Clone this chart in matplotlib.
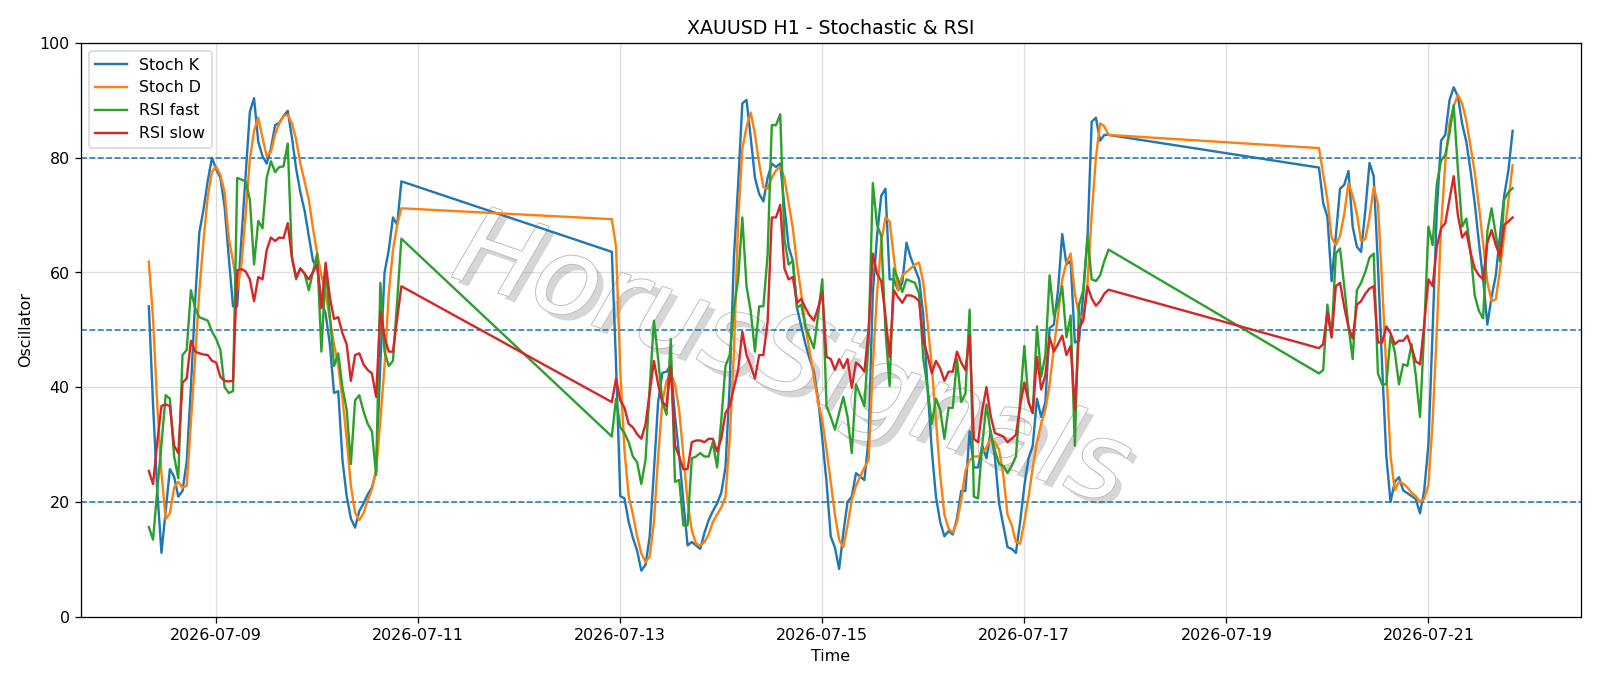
import numpy as np
import pandas as pd
import matplotlib
matplotlib.use("Agg")
import matplotlib.pyplot as plt
import matplotlib.dates as mdates
import matplotlib.patheffects as pe

# ---- data (hourly bars, weekend gaps) ----
seg_starts = ["2026-07-08 08:00", "2026-07-12 22:00", "2026-07-19 22:00"]

stoch_k_1 = [54.1, 37, 22, 11.1, 18.4, 25.7, 24.4, 20.9, 21.9, 27, 40, 55, 67, 71, 76, 80,
             78, 76.5, 71.5, 62.6, 54.1, 54.1, 66, 77, 88, 90.4, 82.8, 80.3, 79, 81.6, 85.7, 86.1, 87.3, 88.2,
             83.5, 78.1, 74, 70.8, 66.4, 62, 61, 55, 52.8, 47.5, 39, 39.3, 27.3, 21, 17.1, 15.5, 18.4, 19.7,
             21.3, 22.5, 25.4, 44, 60, 63.9, 69.6, 68.3, 75.9]
stoch_d_1 = [61.9, 52, 37, 25, 17, 18, 22.5, 23.5, 22.5, 22.8, 34, 45, 56.8, 65.6, 73.2, 77.6,
             78.5, 77, 74, 66, 62, 57, 61.4, 70.2, 79.7, 84.7, 87, 83.5, 80.3, 81, 84.1, 86, 87.3, 87.5,
             86, 83.2, 79, 75.9, 72.7, 67.7, 63.3, 59.5, 56.3, 51.9, 47.5, 43.7, 38, 31, 22.8, 18.1, 16.8, 18,
             20.3, 22.2, 25.4, 34.2, 43.7, 56.3, 63.9, 68.3, 71.2]
rsi_fast_1 = [15.6, 13.4, 22, 30, 38.6, 38, 28, 24.1, 45.6, 46.5, 56.9, 53.8, 52.2, 51.9, 51.6, 49.7,
              48.4, 46.5, 40, 39, 39.3, 76.5, 76.2, 75.9, 72.7, 61.4, 69, 67.7, 76.5, 79.4, 77.5, 78.4, 78.5, 82.5,
              62.6, 58.8, 60.7, 59.8, 56.9, 60.1, 63.3, 46.2, 60.7, 52.5, 43.7, 45.9, 39.9, 36.1, 26.6, 37.7, 38.6,
              35.8, 33.6, 32.3, 24.7, 58.2, 46.2, 43.7, 44.6, 55, 65.9]
rsi_slow_1 = [25.4, 23.1, 30.4, 36.7, 37, 36.7, 29.8, 28.5, 40.8, 41.5, 48.1, 46.2, 45.9, 45.7, 45.6, 44.6,
              44.3, 41.8, 41.1, 41, 41.1, 60.4, 60.6, 60.2, 58.8, 55, 59.2, 58.8, 63.9, 66.1, 65.5, 66.1, 66, 68.6,
              62.6, 59.2, 60.7, 59.8, 58.8, 60.1, 61.4, 53.8, 61.7, 55.7, 51.9, 52.2, 49.4, 47.5, 41.1, 45.6, 45.9,
              44, 43, 42.4, 38.3, 53.2, 48.7, 46.2, 46.2, 52, 57.6]

stoch_k_2 = [63.6, 44, 21, 20.6, 16.5, 13.7, 11.5, 8, 9, 14,
             25.4, 37.4, 42.5, 42.7, 43.9, 35, 28, 20, 12.4, 13,
             12.4, 11.8, 14.6, 16.8, 18.4, 19.7, 21.6, 26, 40.5, 62.6,
             75.3, 89.5, 90.1, 83.5, 76.5, 73.7, 72.4, 76.5, 79, 78.4,
             79, 71.5, 64.5, 62, 53.8, 50.6, 47.5, 44.9, 42.7, 38,
             31, 23.5, 14, 12, 8.3, 14.6, 20, 20.9, 25, 24.4,
             23.8, 31, 56.3, 66.4, 73.4, 74.6, 58.8, 58.8, 56.9, 58.2,
             65.2, 62.6, 60.7, 58.8, 52.5, 39.9, 29.1, 20.9, 16.5, 14,
             14.9, 14.3, 17.1, 21.9, 21.9, 32.3, 26, 26, 29.8, 27.6,
             32.3, 27.9, 19.7, 15.9, 12.1, 11.8, 11.1, 16.5, 22.8, 27.6,
             29.8, 38, 34.8, 37.4, 50.3, 50.9, 56.9, 66.7, 61.4, 62,
             47.8, 48.1, 56.3, 65.8, 86.3, 87, 83, 84, 84]
stoch_d_2 = [69.3, 64.5, 43, 29, 21, 17.8, 14, 11, 9.5, 10.5,
             16.5, 27.9, 37.4, 41.1, 42.4, 40.5, 36, 28, 20, 15,
             12.7, 12.4, 13, 14.3, 16.5, 17.8, 19, 20.9, 31, 46,
             69, 81.6, 85.4, 87.9, 84.1, 79, 74.9, 74.6, 76.5, 77.8,
             78.4, 76.5, 72.1, 67.7, 61.4, 56.3, 50.6, 46.2, 41.8, 37.4,
             34.2, 29.1, 23.5, 17.8, 13.4, 12.1, 15.9, 20.3, 22.8, 24.4,
             26, 27.3, 43.7, 56.3, 65.2, 69.6, 68.9, 62.6, 56.9, 59.5,
             60.1, 60.7, 61.4, 61.7, 58.2, 51.3, 43.7, 34.2, 24.7, 17.8,
             15.3, 14.6, 16.5, 20.3, 25.4, 27.3, 27.9, 27.9, 28.5, 29.5,
             31, 30.4, 29.1, 24.7, 17.8, 15.9, 13, 12.7, 16.5, 20.9,
             26, 30.4, 33.6, 36.1, 40.5, 46.8, 52.5, 58.8, 61.7, 63.3,
             56.3, 52.5, 52, 58, 70, 80, 86, 85.5, 84]
rsi_fast_2 = [31.4, 38, 33, 32, 30.4, 27.9, 26.9, 23.1, 27.3, 40,
              51.6, 44.9, 37.4, 35.2, 48.4, 23.5, 23.8, 15.9, 15.9, 27.6,
              27.9, 28.5, 27.9, 27.9, 30.4, 26, 34.2, 43.7, 45.6, 53.8,
              58.8, 69.6, 57.6, 53.2, 46.2, 54.1, 54.1, 63, 85.7, 85.7,
              87.6, 65.8, 61.4, 62, 53.8, 54.4, 50.6, 48.7, 46.8, 52.5,
              58.8, 36.7, 34.8, 32.6, 35.5, 38.3, 34.8, 28.5, 40.5, 38.6,
              36.7, 48, 75.6, 68.3, 66.4, 50, 40.2, 60.7, 58.8, 56.6,
              58.8, 58.5, 58.2, 56.3, 44.9, 39.9, 33.6, 38, 36.1, 31,
              36.4, 36.4, 44.9, 37.4, 38.9, 53.5, 20.9, 20.6, 30, 37,
              32, 29, 26.6, 26.3, 25, 26.3, 27.9, 37.7, 47.2, 37.4,
              35.5, 50.6, 41.8, 45.6, 59.5, 52.5, 54.4, 57.6, 48.7, 52.5,
              29.8, 54.4, 56.9, 66.4, 58.8, 58.5, 59.5, 62, 64]
rsi_slow_2 = [37.4, 41.5, 37.7, 36.4, 33.6, 33, 31.8, 31, 33.5, 39,
              44.6, 40.5, 37.4, 36.7, 43.7, 29.8, 27.9, 25.7, 25.7, 30.4,
              30.7, 30.7, 30.4, 31, 31, 28.8, 31, 35.5, 36.7, 39.9,
              43, 49.7, 45.6, 43.7, 41.5, 45.6, 45.6, 51.3, 69.6, 69.6,
              71.8, 60.7, 58.8, 59.2, 54.7, 55.4, 53.8, 52.5, 51.6, 53.8,
              56.6, 45.3, 44.9, 43, 44.9, 43.3, 44.9, 39.9, 44.3, 43.7,
              42.7, 50, 63.3, 59.8, 58.5, 52.5, 45.3, 56.9, 55.7, 54.7,
              56, 56, 55.7, 55, 48.1, 45.6, 42.4, 44.6, 43.3, 41.1,
              42.7, 42.7, 46.2, 44.3, 43, 49, 31, 30.4, 36, 40,
              35, 32, 31.7, 31.4, 30.4, 31, 31.7, 36.7, 40.8, 37.4,
              35.5, 45.3, 39.6, 42.1, 48.7, 46.2, 47.5, 49, 45.6, 47.2,
              36.1, 50.3, 51.6, 57.6, 55.5, 54.2, 55, 56.3, 57]

stoch_k_3 = [78.3, 72.1, 69.7, 58.5, 66.4, 74.6, 75.3, 77.7, 68, 64.5,
             63.6, 70.8, 79.1, 76.8, 61.4, 43.7, 27.9, 20, 23.5, 24.3,
             22, 21.5, 21, 20.5, 18, 22, 30, 50, 71, 83,
             84, 90, 92.3, 90.7, 86, 82.8, 77.8, 72.1, 65.2, 58.8,
             50.9, 55.7, 59.5, 66.4, 73.4, 77.8, 84.7]
stoch_d_3 = [81.7, 77.2, 72.7, 66.1, 64.8, 66.4, 70.2, 75.6, 73.4, 70.2,
             65.5, 65.8, 69.6, 74.9, 72, 58, 43, 28, 22, 23.5,
             23.2, 22.5, 21.6, 21, 20, 20.5, 23, 34, 50, 68,
             79, 86, 89, 91, 89.5, 86.5, 82, 77.5, 71.5, 65,
             58.3, 55, 55.3, 60.5, 66.5, 72.5, 78.7]
rsi_fast_3 = [42.4, 43, 54.4, 48.7, 63.3, 64.2, 57.6, 50.6, 44.9, 56.9,
              58.2, 60.1, 62.6, 63.3, 42.4, 40.5, 40.5, 49, 46.2, 40.5,
              44, 43.7, 47.5, 42, 34.8, 50, 68, 64.8, 75.5, 79.5,
              80.5, 84.2, 89.2, 78, 68, 69.4, 63.7, 56, 53.3, 52,
              67.2, 71.2, 66.6, 62, 72.7, 74, 74.7]
rsi_slow_3 = [46.8, 47.5, 53, 48.7, 57.6, 58.2, 54, 50.5, 48.5, 54.4,
              55, 56.3, 57.2, 57.6, 47.8, 47.8, 50.6, 49.4, 47.5, 48.1,
              48.1, 49, 46.8, 44.5, 44, 51, 58.8, 57.6, 64.5, 67.7,
              68.6, 72.7, 76.8, 70, 66.1, 67.1, 63.5, 60.7, 59.5, 58.8,
              65.2, 67.4, 64.8, 62.9, 68.3, 68.9, 69.6]

levels = [20, 50, 80]
tick_dates = ["2026-07-09", "2026-07-11", "2026-07-13", "2026-07-15",
              "2026-07-17", "2026-07-19", "2026-07-21"]

# ---- assemble ----
k_segs = [stoch_k_1, stoch_k_2, stoch_k_3]
d_segs = [stoch_d_1, stoch_d_2, stoch_d_3]
f_segs = [rsi_fast_1, rsi_fast_2, rsi_fast_3]
s_segs = [rsi_slow_1, rsi_slow_2, rsi_slow_3]
times = pd.DatetimeIndex(np.concatenate([
    pd.date_range(st, periods=len(k), freq="h").values for st, k in zip(seg_starts, k_segs)]))
df = pd.DataFrame({
    "Stoch K": np.concatenate(k_segs),
    "Stoch D": np.concatenate(d_segs),
    "RSI fast": np.concatenate(f_segs),
    "RSI slow": np.concatenate(s_segs),
}, index=times)

DPI = 1600 / 14
fig = plt.figure(figsize=(14, 6.003), dpi=DPI)
ax = fig.add_axes([0.0504, 0.1013, 0.9376, 0.8357])

for col in df.columns:
    ax.plot(df.index, df[col], label=col, lw=1.5, zorder=3)

for lv in levels:
    ax.axhline(lv, ls="--", color="#1f77b4", lw=1.0, zorder=2)

ax.set_ylim(0, 100)
ax.grid(True, color="#dddddd", lw=0.8, zorder=0)
ax.set_axisbelow(True)
ax.set_xticks(pd.to_datetime(tick_dates))
ax.xaxis.set_major_formatter(mdates.DateFormatter("%Y-%m-%d"))
ax.set_title("XAUUSD H1 - Stochastic & RSI", fontsize=12)
ax.set_xlabel("Time")
ax.set_ylabel("Oscillator")
ax.legend(loc="upper left")

ax.text(0.474, 0.445, "HorusSignals", transform=ax.transAxes, fontsize=68,
        rotation=-19, ha="center", va="center", style="italic",
        color="#fdfdfd", zorder=1,
        path_effects=[pe.SimplePatchShadow(offset=(4, -4), shadow_rgbFace="#8a8a8a", alpha=0.35),
                      pe.Stroke(linewidth=1.2, foreground="#bdbdbd"), pe.Normal()])

fig.savefig("out.png", dpi=DPI)
